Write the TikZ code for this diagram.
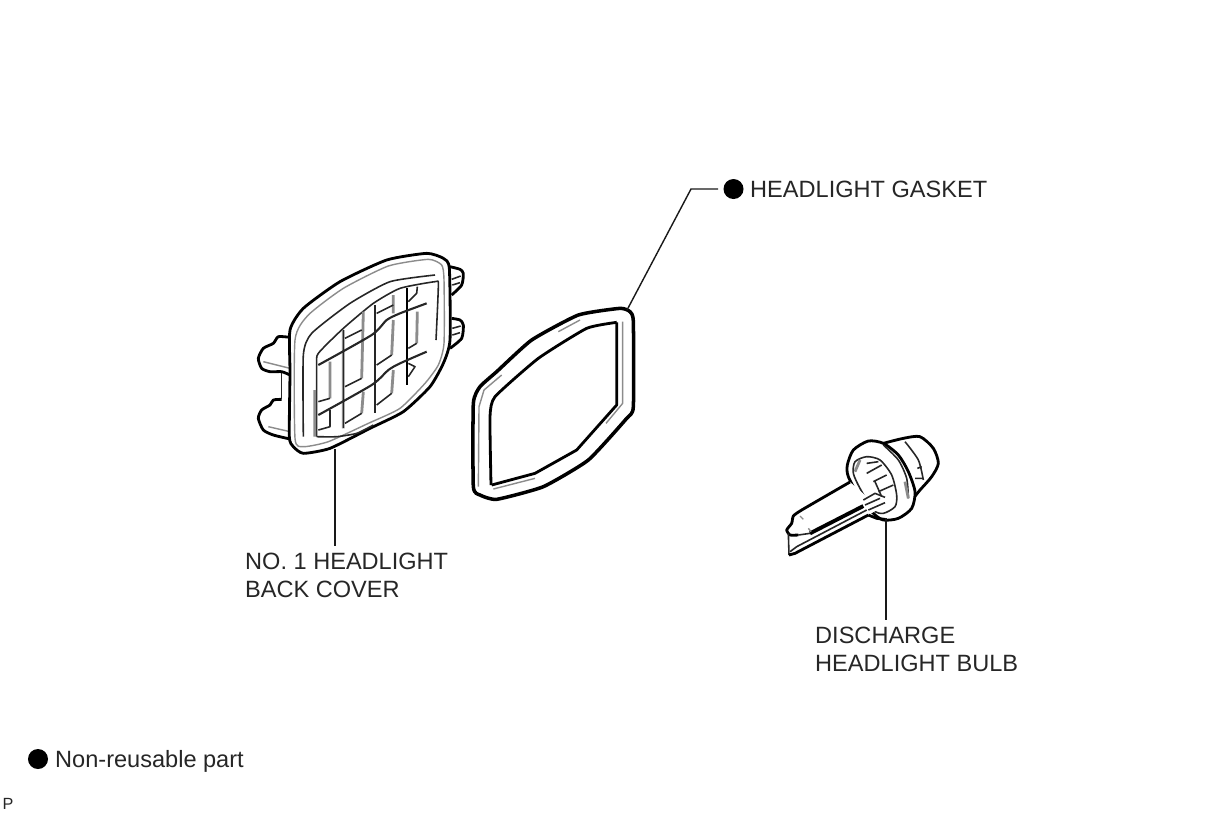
\documentclass[tikz,border=0pt]{standalone}
\usepackage{fontspec}
\setmainfont{Liberation Sans}
\tikzset{
	heavy/.style={line width=0.8pt, black, line join=round},
	medium/.style={line width=0.45pt, black!85, line join=round},
	faint/.style={line width=0.4pt, black!45, line join=round},
	leader/.style={line width=0.4pt, black!90},
	callout/.style={inner sep=0pt, align=left, anchor=north west, text=black!85, font=\fontsize{6.7pt}{7.97pt}\selectfont},
	bullet/.style={circle, fill=black, inner sep=0pt, minimum size=0.2cm}
}
\begin{document}
\begin{tikzpicture}[x=0.01cm, y=-0.01cm]
\useasboundingbox (0,0) rectangle (1210,814);
% back cover
\begin{scope}[shift={(240,240)}, scale=1/3]
\draw[heavy] plot[smooth, tension=0.4] coordinates {(150,292) (115,290) (100,310) (70,325) (55,355) (65,385) (90,395) (125,395) (150,405)};
\draw[heavy] plot[smooth, tension=0.4] coordinates {(125,478) (100,480) (90,495) (65,510) (55,535) (70,570) (100,585) (150,597)};
\draw[medium] (125,400) -- (125,478);
\draw[heavy] plot[smooth, tension=0.4] coordinates {(630,80) (660,88) (670,100) (665,135) (635,165)};
\draw[heavy] plot[smooth, tension=0.4] coordinates {(635,235) (660,240) (670,255) (665,295) (630,325)};
\draw[medium] (635,118) -- (662,108) (637,135) -- (660,128) (637,265) -- (662,258) (637,285) -- (660,278);
\draw[faint] (70,365) -- (150,385) (85,560) -- (150,575);
\draw[heavy, fill=white] plot[smooth cycle, tension=0.35] coordinates {(150,270) (190,205) (300,125) (440,60) (560,40) (610,55) (628,85) (630,300) (610,370) (570,440) (490,515) (390,565) (270,625) (190,640) (160,620) (148,590) (150,400)};
\draw[faint] plot[smooth cycle, tension=0.35] coordinates {(165,300) (205,225) (310,145) (445,78) (565,58) (605,75) (612,120) (612,310) (595,375) (555,430) (480,505) (385,550) (265,605) (190,620) (165,595)};
\draw[medium] plot[smooth, tension=0.35] coordinates {(190,590) (190,345) (215,280) (330,190) (450,125) (585,105)};
\end{scope}
% window and bars
\begin{scope}[shift={(310,270)}, scale=1/3]
\draw[medium] plot[smooth, tension=0.35] coordinates {(20,500) (20,290) (25,250) (100,175) (190,100) (270,55) (375,35) (385,45) (378,210)};
\draw[medium] plot[smooth, tension=0.35] coordinates {(20,500) (80,500) (140,490) (190,465)};
\draw[faint, line width=0.8pt] (14,360) -- (14,500) (100,180) -- (100,475) (160,125) -- (155,325) (160,365) -- (155,430) (250,75) -- (250,130) (250,150) -- (245,255) (250,300) -- (245,370) (322,125) -- (320,220) (60,275) -- (60,385);
\draw[medium] (100,180) -- (100,475) (195,105) -- (195,430);
\draw[heavy, line width=0.6pt] (292,55) -- (292,345);
\draw[medium, line width=0.6pt] plot[smooth, tension=0.4] coordinates {(25,285) (185,195) (230,150) (270,130) (350,100)};
\draw[medium, line width=0.6pt] plot[smooth, tension=0.4] coordinates {(25,435) (185,345) (235,300) (270,280) (350,245)};
\draw[medium] (60,385) -- (25,395) (60,420) -- (60,470) -- (25,480) (155,325) -- (105,350) (105,205) -- (155,180) (155,430) -- (105,460) (245,255) -- (200,285) (200,130) -- (250,105) (245,370) -- (200,405) (322,50) -- (320,70) -- (295,95) (320,220) -- (295,235) (295,280) -- (315,290) -- (295,320);
\end{scope}
% gasket
\begin{scope}[shift={(460,290)}, scale=1/3]
\draw[heavy, line width=1pt] plot[smooth cycle, tension=0.3] coordinates {(40,340) (60,290) (110,245) (215,150) (355,75) (480,55) (510,65) (520,95) (520,350) (500,385) (385,510) (250,590) (110,628) (60,615) (40,590)};
\draw[heavy] plot[smooth, tension=0.3] coordinates {(93,585) (90,380) (105,320) (235,205) (380,115) (470,97)};
\draw[heavy] (470,97) -- (470,345) -- (350,480) -- (225,550) -- (95,585);
\draw[faint] (55,590) -- (57,350) -- (72,300) -- (125,255) (295,125) -- (360,90);
\draw[faint] (488,95) -- (488,340) -- (438,400) (100,597) -- (225,565);
\end{scope}
% bulb body
\begin{scope}[shift={(840,435)}, scale=1/3]
\draw[heavy] plot[smooth, tension=0.45] coordinates {(130,25) (190,10) (240,5) (280,40) (295,85) (275,125) (240,165) (220,190)};
\draw[medium] plot[smooth, tension=0.45] coordinates {(195,20) (235,75) (250,135)};
\draw[medium] (225,130) -- (250,130) (232,100) -- (245,95);
\draw[heavy, fill=white] plot[smooth cycle, tension=0.45] coordinates {(25,125) (22,90) (40,45) (85,18) (130,25) (175,60) (205,110) (225,170) (215,220) (175,250) (130,255) (100,235) (60,190)};
\draw[medium] plot[smooth, tension=0.45] coordinates {(130,30) (175,75) (200,130) (205,190)};
\draw[medium] plot[smooth cycle, tension=0.45] coordinates {(40,115) (45,80) (80,65) (120,75) (155,120) (170,180) (165,215) (130,235) (100,225) (60,160)};
\draw[medium] (80,85) -- (115,80) (80,115) -- (125,90) (100,140) -- (140,120) (115,170) -- (160,150) (105,140) -- (125,185);
\draw[faint, line width=0.8pt] (195,140) -- (205,190) (60,75) -- (45,110);
\end{scope}
% bulb tube
\begin{scope}[shift={(785,490)}, scale=1/3]
\fill[white] (195,-24) -- (50,60) -- (5,120) -- (12,195) -- (30,190) -- (250,75) -- (285,55) -- cycle;
\draw[heavy] plot[smooth, tension=0.3] coordinates {(195,-24) (50,60) (25,78) (20,100) (5,120) (15,135) (40,135)};
\draw[medium] (10,130) -- (12,195);
\draw[heavy] (12,195) -- (30,190) -- (250,75);
\draw[heavy, line width=1.1pt] (75,130) -- (235,48);
\draw[medium] (40,135) -- (75,130) (15,185) -- (35,170) -- (245,60);
\draw[medium] (235,30) -- (270,10) -- (300,22) (240,45) -- (285,25) (250,60) -- (300,38);
\draw[heavy] (250,75) -- (275,85) -- (300,88);
\draw[faint] (45,78) -- (55,88) (70,115) -- (78,125);
\end{scope}
% labels
\node[callout] (gasketlabel) at (749.5,180) {HEADLIGHT GASKET};
\node[callout] (coverlabel) at (244.5,552) {NO. 1 HEADLIGHT\\BACK COVER};
\node[callout] (bulblabel) at (814.5,626) {DISCHARGE\\HEADLIGHT BULB};
\node[bullet] (gasketdot) at (733.5,189) {};
\node[bullet] (legenddot) at (38,759) {};
\node[callout] (legendlabel) at (54.5,750) {Non-reusable part};
\node[callout, font=\fontsize{4.6pt}{5pt}\selectfont] (pagemark) at (2,798) {P};
% leaders
\coordinate (gasketend) at (627,310);
\coordinate (gasketbend) at (691,189);
\coordinate (coverend) at (335,449);
\coordinate (bulbend) at (886,518);
\draw[leader] (gasketend) -- (gasketbend) -- (718,189);
\draw[leader] (coverend) -- ([yshift=1.7pt]coverend |- coverlabel.north);
\draw[leader] (bulbend) -- ([yshift=1.7pt]bulbend |- bulblabel.north);
\end{tikzpicture}
\end{document}
